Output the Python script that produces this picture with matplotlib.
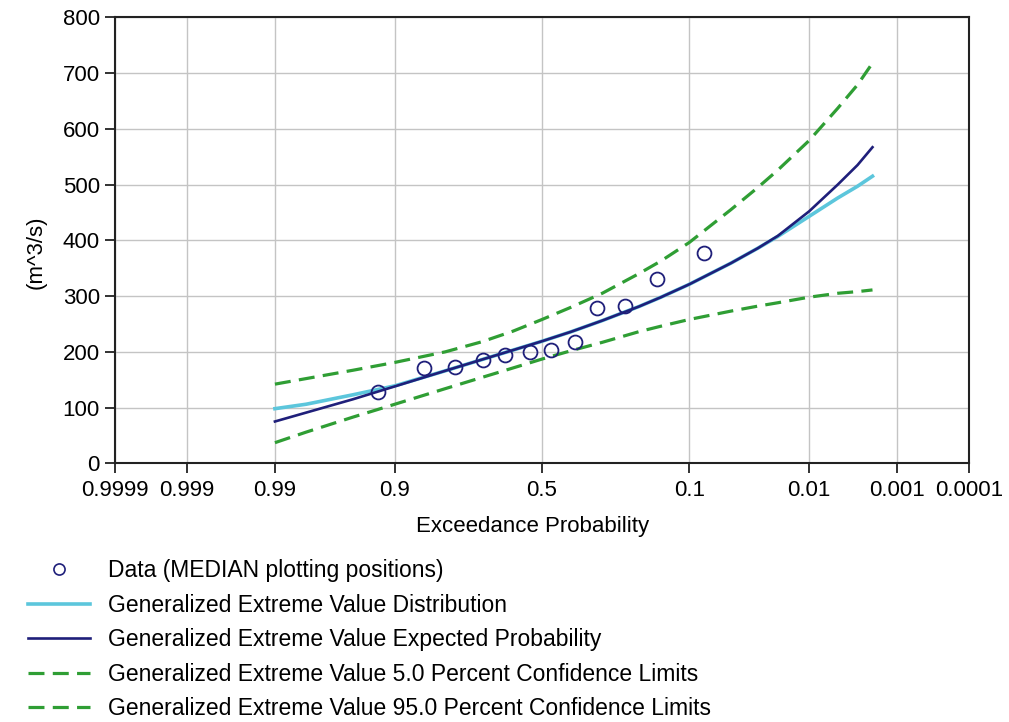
import matplotlib
matplotlib.use("Agg")
import matplotlib.pyplot as plt
from matplotlib.lines import Line2D
import numpy as np
from statistics import NormalDist

# exceedance probabilities where the fitted curves were read
curve_prob = [0.99, 0.98, 0.95, 0.9, 0.8, 0.7, 0.6, 0.5, 0.4, 0.3,
              0.2, 0.15, 0.1, 0.05, 0.03, 0.02, 0.01, 0.005, 0.003, 0.002]
gev_dist = [98, 106, 123, 139, 166, 186, 203, 219, 236, 256,
            281, 298, 321, 359, 386, 407, 443, 476, 497, 515]
gev_expected = [75, 91, 115, 138, 166, 186, 203, 219, 236, 256,
                281, 298, 321, 359, 386, 408, 452, 500, 535, 567]
conf_5 = [142, 152, 167, 181, 200, 218, 237, 258, 280, 305,
          340, 363, 396, 455, 495, 526, 579, 637, 679, 718]
conf_95 = [37, 56, 83, 106, 134, 154, 171, 187, 202, 217,
           236, 246, 258, 273, 282, 288, 298, 305, 308, 311]

# observed peaks (median plotting positions)
data_prob = [0.924, 0.848, 0.776, 0.696, 0.625, 0.543, 0.470, 0.388, 0.315, 0.236, 0.158, 0.0795]
data_flow = [128, 171, 173, 186, 194, 200, 204, 218, 278, 282, 331, 377]

tick_prob = [0.9999, 0.999, 0.99, 0.9, 0.5, 0.1, 0.01, 0.001, 0.0001]
tick_text = ["0.9999", "0.999", "0.99", "0.9", "0.5", "0.1", "0.01", "0.001", "0.0001"]

ND = NormalDist()


def prob_fwd(p):
    p = np.asarray(p, dtype=float)
    p = np.where(np.isfinite(p), p, 0.5)
    p = np.clip(p, 1e-9, 1 - 1e-9)
    return np.vectorize(ND.inv_cdf, otypes=[float])(p)


def prob_inv(z):
    z = np.asarray(z, dtype=float)
    z = np.where(np.isfinite(z), z, 0.0)
    return np.vectorize(ND.cdf, otypes=[float])(z)


plt.rcParams["font.family"] = ["Liberation Sans", "DejaVu Sans"]

fig = plt.figure(figsize=(10.09, 7.22), dpi=100)
ax = fig.add_axes([0.114, 0.3583, 0.8464, 0.6177])
# normal probability axis, 0.9999 on the left
ax.set_xscale("function", functions=(prob_fwd, prob_inv))
ax.set_xlim(0.9999, 0.0001)
ax.set_ylim(0, 800)

ax.set_xticks(tick_prob)
ax.set_xticklabels(tick_text)
ax.xaxis.set_minor_locator(matplotlib.ticker.NullLocator())
ax.set_yticks(range(0, 801, 100))
ax.grid(True, color="#c4c4c4", linewidth=1.0)
ax.set_axisbelow(True)

for s in ax.spines.values():
    s.set_linewidth(1.5)
    s.set_color("#222222")
ax.tick_params(axis="both", length=7, width=1.3, labelsize=16, color="#222222")
ax.tick_params(axis="x", pad=5)
ax.tick_params(axis="y", pad=4)

c_cyan = "#5cc6dc"
c_navy = "#1f1f7a"
c_green = "#2f9e34"
dash = (0, (5, 2.6))

ax.plot(curve_prob, gev_dist, color=c_cyan, linewidth=2.6)
ax.plot(curve_prob, gev_expected, color=c_navy, linewidth=1.9)
ax.plot(curve_prob, conf_5, color=c_green, linewidth=2.3, linestyle=dash)
ax.plot(curve_prob, conf_95, color=c_green, linewidth=2.3, linestyle=dash)
ax.plot(data_prob, data_flow, linestyle="none", marker="o", markersize=10,
        markerfacecolor="none", markeredgecolor=c_navy, markeredgewidth=1.3)

ax.set_xlabel("Exceedance Probability", fontsize=16)
ax.xaxis.set_label_coords(0.489, -0.119)
ax.set_ylabel("(m^3/s)", fontsize=16)
ax.yaxis.set_label_coords(-0.08, 0.474)

handles = [
    Line2D([], [], linestyle="none", marker="o", markersize=8, markerfacecolor="none",
           markeredgecolor=c_navy, markeredgewidth=1.2),
    Line2D([], [], color=c_cyan, linewidth=2.6),
    Line2D([], [], color=c_navy, linewidth=1.9),
    Line2D([], [], color=c_green, linewidth=2.3, linestyle=dash),
    Line2D([], [], color=c_green, linewidth=2.3, linestyle=dash),
]
labels = [
    "Data (MEDIAN plotting positions)",
    "Generalized Extreme Value Distribution",
    "Generalized Extreme Value Expected Probability",
    "Generalized Extreme Value 5.0 Percent Confidence Limits",
    "Generalized Extreme Value 95.0 Percent Confidence Limits",
]
fig.legend(handles, labels, loc="upper left", bbox_to_anchor=(28 / 1009, 1 - 559.5 / 722),
           frameon=False, fontsize=16.5, handlelength=2.7, handletextpad=0.79,
           labelspacing=0.5, borderpad=0, borderaxespad=0)

fig.savefig("out.png", dpi=100)
